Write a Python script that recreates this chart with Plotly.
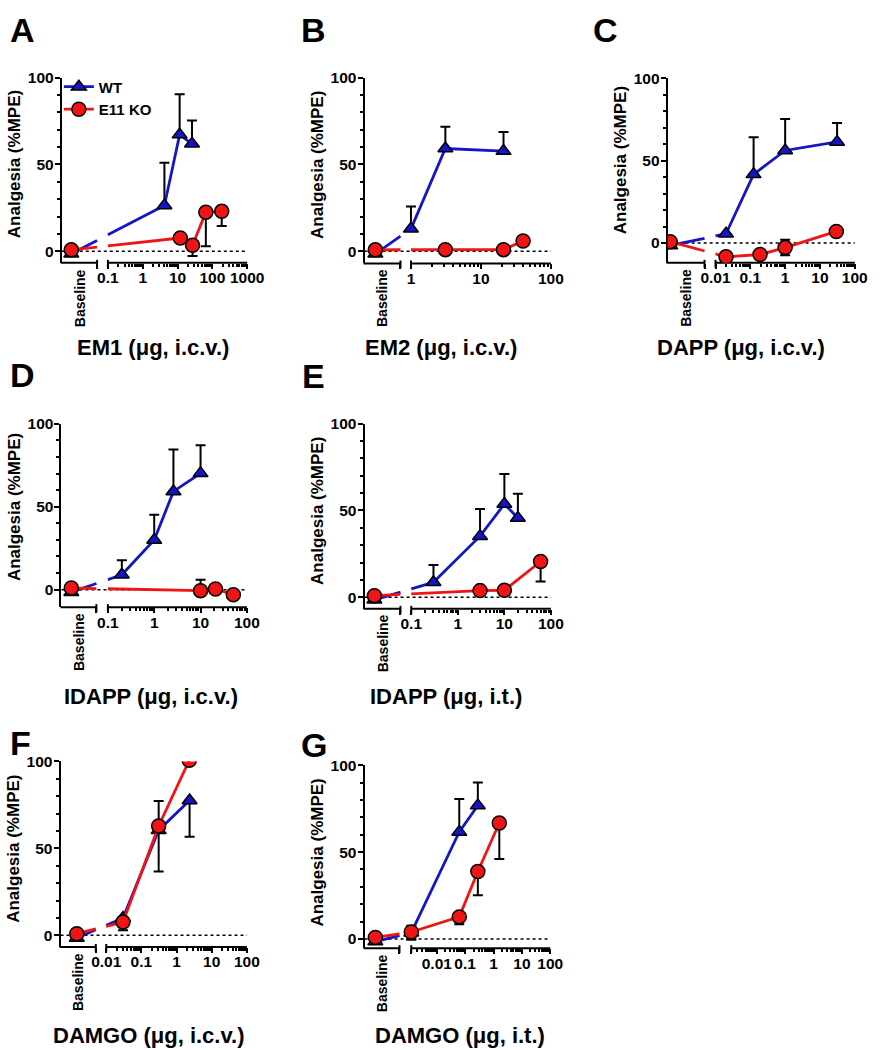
import math
import plotly.graph_objects as go

W, H = 887, 1050
BLUE = "#1414c8"
RED = "#f01414"
FONT = "Arial, 'Liberation Sans', sans-serif"

# data: first value of every *_MEAN / *_UP / *_DN list is the Baseline reading
# A  EM1 (i.c.v.)
A_WT_DOSE = [4.2, 11.5, 26]
A_WT_MEAN = [-1.5, 26.3, 67.2, 61.9]
A_WT_UP = [0, 24.7, 23.2, 13.5]
A_WT_DN = [0, 0, 0, 0]
A_KO_DOSE = [12, 27, 65, 186]
A_KO_MEAN = [0.8, 7.6, 3.4, 22.5, 23.0]
A_KO_UP = [0, 0, 0, 0, 0]
A_KO_DN = [0, 0, 6.2, 19.6, 8.5]

# B  EM2 (i.c.v.)
B_WT_DOSE = [1, 3.1, 21]
B_WT_MEAN = [-1.5, 12.9, 59.2, 57.7]
B_WT_UP = [0, 12.8, 12.6, 11.0]
B_WT_DN = [0, 0, 0, 0]
B_KO_DOSE = [3.1, 21, 40]
B_KO_MEAN = [0.8, 0.9, 0.9, 5.9]
B_KO_UP = [0, 0, 0, 0]
B_KO_DN = [0, 0, 0, 0]

# C  DAPP (i.c.v.)
C_WT_DOSE = [0.02, 0.124, 1, 31]
C_WT_MEAN = [-1.5, 5.6, 41.7, 56.2, 61.4]
C_WT_UP = [0, 0, 22.6, 19.1, 11.5]
C_WT_DN = [0, 0, 0, 0, 0]
C_KO_DOSE = [0.02, 0.19, 1, 29.5]
C_KO_MEAN = [0.8, -8.4, -7.0, -2.8, 7.0]
C_KO_UP = [0, 2.0, 0, 4.8, 0]
C_KO_DN = [0, 2.0, 0, 4.6, 0]

# D  IDAPP (i.c.v.)
D_WT_DOSE = [0.2, 1, 2.6, 10]
D_WT_MEAN = [-1.5, 9.0, 29.9, 59.2, 70.1]
D_WT_UP = [0, 8.7, 15.3, 25.3, 16.9]
D_WT_DN = [0, 0, 0, 0, 0]
D_KO_DOSE = [10, 21, 51]
D_KO_MEAN = [1.0, -0.6, 0.4, -3.0]
D_KO_UP = [0, 6.6, 0, 0]
D_KO_DN = [0, 0, 0, 0]

# E  IDAPP (i.t.)
E_WT_DOSE = [0.3, 3, 10, 19.5]
E_WT_MEAN = [-1.5, 8.6, 35.2, 53.7, 45.7]
E_WT_UP = [0, 9.9, 15.7, 17.3, 13.9]
E_WT_DN = [0, 0, 0, 0, 0]
E_KO_DOSE = [3, 10, 60]
E_KO_MEAN = [0.9, 3.8, 4.0, 20.6]
E_KO_UP = [0, 0, 0, 0]
E_KO_DN = [0, 0, 0, 11.5]

# F  DAMGO (i.c.v.)
F_WT_DOSE = [0.03, 0.31, 2.35]
F_WT_MEAN = [-1.5, 10.0, 60.5, 77.6]
F_WT_UP = [0, 0, 16.7, 0]
F_WT_DN = [0, 7.1, 23.8, 20.9]
F_KO_DOSE = [0.03, 0.31, 2.3]
F_KO_MEAN = [0.9, 7.6, 62.9, 100.7]
F_KO_UP = [0, 0, 0, 0]
F_KO_DN = [0, 0, 0, 0]

# G  DAMGO (i.t.)
G_WT_DOSE = [0.00126, 0.062, 0.28]
G_WT_MEAN = [-1.5, 3.6, 61.6, 76.8]
G_WT_UP = [0, 4.0, 19.0, 13.2]
G_WT_DN = [0, 4.0, 0, 0]
G_KO_DOSE = [0.00126, 0.062, 0.28, 1.6]
G_KO_MEAN = [0.9, 4.0, 12.7, 38.8, 66.7]
G_KO_UP = [0, 0, 0, 0, 0]
G_KO_DN = [0, 4.0, 4.3, 13.7, 20.7]

# layout of each panel in pixels
# box = (y-axis x, right end, y of 100, y of 0, x-axis y)
# seg = (start px of log part, log10 at start, log10 at right end)
PANELS = [
    dict(letter="A", title="EM1 (μg, i.c.v.)", box=(63, 252, 69.3, 244.3, 256),
         seg=(110, -1, 3), brk=99, base=72.7, xt=(156, 341), lt=(8, 21),
         wt=(A_WT_DOSE, A_WT_MEAN, A_WT_UP, A_WT_DN), ko=(A_KO_DOSE, A_KO_MEAN, A_KO_UP, A_KO_DN)),
    dict(letter="B", title="EM2 (μg, i.c.v.)", box=(371.7, 561.7, 69.3, 244.3, 256.7),
         seg=(419, 0, 2), brk=408.3, base=382.7, xt=(450, 341), lt=(305, 21),
         wt=(B_WT_DOSE, B_WT_MEAN, B_WT_UP, B_WT_DN), ko=(B_KO_DOSE, B_KO_MEAN, B_KO_UP, B_KO_DN)),
    dict(letter="C", title="DAPP (μg, i.c.v.)", box=(680.7, 871.5, 70, 236, 256),
         seg=(729.5, -2, 2), brk=718.3, base=683.3, xt=(755, 341), lt=(603, 21),
         wt=(C_WT_DOSE, C_WT_MEAN, C_WT_UP, C_WT_DN), ko=(C_KO_DOSE, C_KO_MEAN, C_KO_UP, C_KO_DN)),
    dict(letter="D", title="IDAPP (μg, i.c.v.)", box=(62.7, 251.7, 418.3, 585.7, 603.3),
         seg=(110, -1, 2), brk=98.3, base=72.7, xt=(154, 693), lt=(8, 369),
         wt=(D_WT_DOSE, D_WT_MEAN, D_WT_UP, D_WT_DN), ko=(D_KO_DOSE, D_KO_MEAN, D_KO_UP, D_KO_DN)),
    dict(letter="E", title="IDAPP (μg, i.t.)", box=(371.7, 561.7, 418.3, 593.3, 605),
         seg=(419.3, -1, 2), brk=408.3, base=381.7, xt=(455, 693), lt=(306, 370),
         wt=(E_WT_DOSE, E_WT_MEAN, E_WT_UP, E_WT_DN), ko=(E_KO_DOSE, E_KO_MEAN, E_KO_UP, E_KO_DN)),
    dict(letter="F", title="DAMGO (μg, i.c.v.)", box=(61.7, 251.7, 759, 934.3, 946),
         seg=(108.3, -2, 2), brk=97.7, base=78.3, xt=(152, 1035), lt=(8, 740),
         wt=(F_WT_DOSE, F_WT_MEAN, F_WT_UP, F_WT_DN), ko=(F_KO_DOSE, F_KO_MEAN, F_KO_UP, F_KO_DN)),
    dict(letter="G", title="DAMGO (μg, i.t.)", box=(371.7, 561, 762.7, 938, 947.3),
         seg=(419.3, -2.9, 2), brk=407.3, base=382.7, xt=(469, 1035), lt=(305, 742),
         wt=(G_WT_DOSE, G_WT_MEAN, G_WT_UP, G_WT_DN), ko=(G_KO_DOSE, G_KO_MEAN, G_KO_UP, G_KO_DN)),
]


def px(x):
    return x / W


def py(y):
    return 1 - y / H


def bold(size):
    return dict(family=FONT, size=size, color="black", weight="bold")


fig = go.Figure()
shapes = []
annotations = []

for i, p in enumerate(PANELS):
    n = "" if i == 0 else str(i + 1)
    xa, ya = "x" + n, "y" + n
    left, right, ytop, yzero, ybot = p["box"]
    sstart, slo, shi = p["seg"]
    dec = (right - sstart) / (shi - slo)
    lo = slo - (sstart - left) / dec
    tb = lo + (p["base"] - left) / dec
    tl = lo + (p["brk"] - left) / dec
    base_x = 10 ** tb
    unit = (yzero - ytop) / 100
    ymin = -(ybot - yzero) / unit

    for key, name, color, symbol, msize in (("wt", "WT", BLUE, "triangle-up", 13),
                                             ("ko", "E11 KO", RED, "circle", 14)):
        dose, mean, up, dn = p[key]
        # connector from baseline to first dose, broken at the axis break
        t0 = math.log10(dose[0])
        tr = min(slo, t0)
        ya_ = mean[0] + (mean[1] - mean[0]) * (tl - tb) / (t0 - tb)
        yb_ = mean[0] + (mean[1] - mean[0]) * (tr - tb) / (t0 - tb)
        fig.add_trace(go.Scatter(
            x=[base_x, 10 ** tl, None, 10 ** tr, dose[0]],
            y=[mean[0], ya_, None, yb_, mean[1]],
            mode="lines", line=dict(color=color, width=2.8),
            xaxis=xa, yaxis=ya, showlegend=False, hoverinfo="skip"))
        # error bars
        xs = [base_x] + list(dose)
        sel = [j for j in range(len(xs)) if up[j] > 0 or dn[j] > 0]
        if sel:
            fig.add_trace(go.Scatter(
                x=[xs[j] for j in sel], y=[mean[j] for j in sel], mode="markers",
                marker=dict(size=1, color="rgba(0,0,0,0)"),
                error_y=dict(type="data", symmetric=False,
                             array=[up[j] for j in sel], arrayminus=[dn[j] for j in sel],
                             color="black", thickness=2, width=5),
                xaxis=xa, yaxis=ya, showlegend=False, hoverinfo="skip"))
        mk = dict(symbol=symbol, size=msize, color=color, line=dict(color="black", width=1.5))
        fig.add_trace(go.Scatter(
            x=dose, y=mean[1:], mode="lines+markers", name=name,
            line=dict(color=color, width=2.8), marker=mk,
            xaxis=xa, yaxis=ya, showlegend=(i == 0)))
        fig.add_trace(go.Scatter(
            x=[base_x], y=[mean[0]], mode="markers", marker=mk,
            xaxis=xa, yaxis=ya, showlegend=False))

    # ticks of the log part
    major = [10.0 ** d for d in range(math.ceil(slo - 1e-9), math.floor(shi + 1e-9) + 1)]
    labels = [f"{v:g}" for v in major]
    tickvals = major + [10 ** tl]
    ticktext = labels + [""]
    if abs(slo - round(slo)) > 1e-6:
        tickvals.append(10 ** slo)
        ticktext.append("")
    minor = []
    for d in range(math.floor(slo), math.ceil(shi)):
        for k in range(2, 10):
            v = k * 10.0 ** d
            if 10 ** slo < v < 10 ** shi:
                minor.append(v)

    fig.layout["xaxis" + n] = dict(
        type="log", range=[lo, shi], domain=[px(left), px(right)], anchor=ya,
        showline=False, showgrid=False, zeroline=False,
        ticks="outside", ticklen=5, tickwidth=2, tickcolor="black",
        tickmode="array", tickvals=tickvals, ticktext=ticktext, tickfont=bold(15.5),
        tickangle=0, ticklabelstandoff=-4,
        minor=dict(tickmode="array", tickvals=minor, ticks="outside", ticklen=3,
                   tickwidth=1.5, tickcolor="black", showgrid=False))
    fig.layout["yaxis" + n] = dict(
        range=[ymin, 100], domain=[py(ybot), py(ytop)], anchor=xa,
        showline=True, linewidth=2, linecolor="black", showgrid=False, zeroline=False,
        ticks="outside", ticklen=5, tickwidth=2, tickcolor="black",
        tickmode="array", tickvals=[0, 50, 100], tickfont=bold(15.5), ticklabelstandoff=-2,
        minor=dict(tickmode="array", tickvals=[10, 20, 30, 40, 60, 70, 80, 90],
                   ticks="outside", ticklen=3, tickwidth=1.5, tickcolor="black"),
        layer="below traces")

    # broken x axis line
    ln = dict(color="black", width=2)
    shapes += [
        dict(type="line", xref="paper", yref="paper", x0=px(left - 1), x1=px(p["brk"]),
             y0=py(ybot), y1=py(ybot), line=ln, layer="below"),
        dict(type="line", xref="paper", yref="paper", x0=px(sstart), x1=px(right),
             y0=py(ybot), y1=py(ybot), line=ln, layer="below"),
        dict(type="line", xref="paper", yref="paper", x0=px(sstart), x1=px(sstart),
             y0=py(ybot - 3), y1=py(ybot + 5), line=ln, layer="below"),
        dict(type="line", xref="paper", yref="paper", x0=px(p["brk"]), x1=px(p["brk"]),
             y0=py(ybot - 3), y1=py(ybot + 5), line=ln, layer="below"),
        dict(type="line", xref="paper", yref=ya, x0=px(left), x1=px(right), y0=0, y1=0,
             line=dict(color="black", width=1.5, dash="dot"), layer="below"),
    ]

    annotations += [
        dict(text=p["letter"], x=px(p["lt"][0]), y=py(p["lt"][1]), xref="paper", yref="paper",
             xanchor="left", yanchor="middle", showarrow=False, font=bold(34)),
        dict(text=p["title"], x=px(p["xt"][0]), y=py(p["xt"][1]), xref="paper", yref="paper",
             xanchor="center", yanchor="middle", showarrow=False, font=bold(22)),
        dict(text="Analgesia (%MPE)", x=px(left - 48), y=py((ytop + yzero) / 2),
             xref="paper", yref="paper", textangle=-90, xanchor="center", yanchor="middle",
             showarrow=False, font=bold(17)),
        dict(text="Baseline", x=px((left + p["brk"]) / 2), y=py(ybot + 4),
             xref="paper", yref="paper", textangle=-90, xanchor="center", yanchor="top",
             showarrow=False, font=bold(14)),
    ]

fig.update_layout(
    width=W, height=H, margin=dict(l=0, r=0, t=0, b=0),
    paper_bgcolor="white", plot_bgcolor="white",
    shapes=shapes, annotations=annotations,
    legend=dict(x=px(60), y=py(62), xanchor="left", yanchor="top", font=bold(15),
                bgcolor="rgba(0,0,0,0)", tracegroupgap=0, itemwidth=30),
)

fig.write_html(
    "out.html",
    config={"displayModeBar": False},
    post_script="document.body.style.margin='0';document.documentElement.style.overflow='hidden';",
)
